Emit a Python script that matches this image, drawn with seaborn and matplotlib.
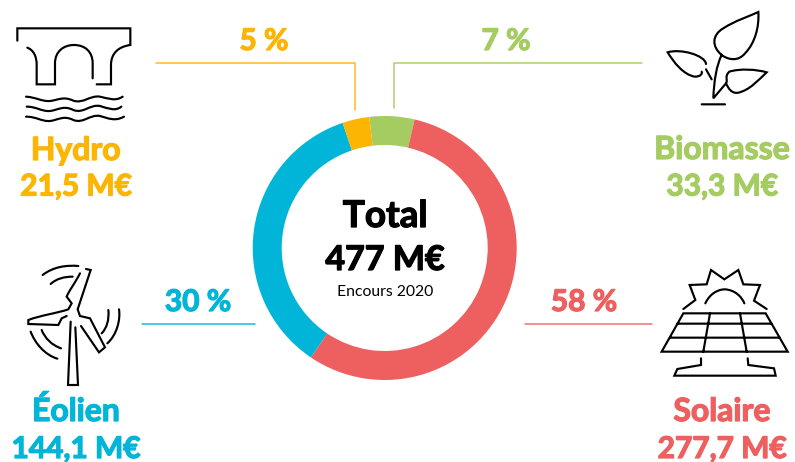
import re
import numpy as np
import pandas as pd
import seaborn as sns
import matplotlib.pyplot as plt
import matplotlib.patheffects as pe
from matplotlib.path import Path
from matplotlib.patches import PathPatch

# Data
sources = ['Biomasse', 'Solaire', 'Éolien', 'Hydro']
amounts = [33.3, 277.7, 144.1, 21.5]
percents = [7, 58, 30, 5]
# the ring is not drawn to scale in the original, these are the arc shares as drawn
ring_shares = [5.5, 55.8, 35.4, 3.3]
colors = ['#A4CC61', '#EE6060', '#00B5D8', '#FDB504']
total_label = 'Total'
total_value = '477 M€'
total_note = 'Encours 2020'

W, H = 795, 462
FONT = 'Lato'

sns.set_theme(style='white')
plt.rcParams['font.family'] = [FONT, 'DejaVu Sans']
palette = sns.color_palette(colors)
df = pd.DataFrame({'source': sources, 'amount': amounts, 'percent': percents, 'share': ring_shares})

fig = plt.figure(figsize=(W / 100, H / 100), dpi=100, facecolor='white')

# full canvas axes, in pixels, for text and the icons
ax = fig.add_axes([0, 0, 1, 1])
ax.set_xlim(0, W)
ax.set_ylim(H, 0)
ax.axis('off')

# Donut
cx, cy, r = 384.7, 248, 132
ax_pie = fig.add_axes([(cx - r) / W, 1 - (cy + r) / H, 2 * r / W, 2 * r / H])
ax_pie.pie(df['share'], colors=palette, startangle=90 - (-6.7), counterclock=False, radius=1,
           wedgeprops={'width': 29 / r, 'linewidth': 0})
ax_pie.set_xlim(-1, 1)
ax_pie.set_ylim(-1, 1)


def svg(d, ox=0, oy=0, scale=1 / 3):
    verts, codes = [], []
    for cmd, args in re.findall(r'([MLCZ])([^MLCZ]*)', d):
        nums = [float(n) for n in args.split()]
        pts = [(ox + nums[i] * scale, oy + nums[i + 1] * scale) for i in range(0, len(nums), 2)]
        if cmd == 'M':
            verts += pts
            codes += [Path.MOVETO]
        elif cmd == 'L':
            verts += pts
            codes += [Path.LINETO] * len(pts)
        elif cmd == 'C':
            verts += pts
            codes += [Path.CURVE4] * len(pts)
        else:
            verts += [verts[-1]]
            codes += [Path.CLOSEPOLY]
    return Path(verts, codes)


def icon(d, ox, oy, lw=1.55):
    patch = PathPatch(svg(d, ox, oy), fill=False, edgecolor='black', linewidth=lw,
                      capstyle='round', joinstyle='miter')
    ax.add_patch(patch)


# Hydro
icon('M 52 122 L 52 85 L 391 85 L 391 135 C 355 140 333 160 333 195 L 333 253 L 290 253 '
     'M 82 143 C 100 150 110 168 110 195 L 110 253 L 165 253 L 165 190 '
     'C 165 155 190 135 222 135 C 255 135 278 155 278 190 L 278 235 '
     'M 78 290 C 110 292 125 305 150 303 C 175 300 190 288 220 302 C 250 312 270 285 300 290 C 325 295 345 305 368 290 '
     'M 80 320 C 110 320 125 335 150 333 C 175 330 190 315 220 330 C 250 342 270 312 300 318 C 325 325 345 335 364 320 '
     'M 78 350 C 110 350 125 365 150 363 C 175 360 190 345 220 360 C 250 372 270 342 300 348 C 325 355 345 365 372 350',
     0, 0)

# Biomasse
icon('M 305 165 C 275 140 275 105 310 85 C 345 62 385 50 415 36 C 418 80 405 130 375 160 C 355 185 325 180 305 165 '
     'C 290 195 282 240 280 295 L 318 250 C 325 240 312 230 328 215 C 360 205 410 208 440 217 '
     'C 415 240 390 270 355 278 C 335 282 325 265 318 250 '
     'M 258 192 C 255 165 180 145 143 157 C 160 185 190 225 225 230 C 240 230 248 222 245 215 '
     'M 258 208 L 275 238 M 245 313 L 315 313', 620, 0)

# Eolien
icon('M 212 215 L 204 405 L 234 405 L 226 232 '
     'M 240 70 C 225 100 205 125 200 140 L 215 160 L 205 178 C 170 190 125 195 85 210 L 85 222 L 175 225 L 185 205 L 200 198 '
     'M 258 57 L 272 60 L 233 178 L 240 198 L 270 205 L 315 292 L 297 307 L 243 228 '
     'M 128 75 C 160 50 200 45 235 48 M 152 102 C 170 85 195 80 218 80 '
     'M 92 245 C 105 280 135 315 172 326 M 125 240 C 135 265 155 285 183 295 '
     'M 357 178 C 362 210 350 255 322 280 M 325 180 C 328 210 320 235 305 250', 0, 250)

# Solaire
icon('M 190 177 L 226 150 L 209 105 L 260 103 L 273 60 L 313 88 L 355 60 L 370 103 L 420 105 L 402 152 L 440 177 '
     'M 256 160 C 270 130 295 118 315 118 C 345 120 365 140 373 160 '
     'M 190 190 L 437 190 L 503 305 L 125 305 Z '
     'M 172 221 L 455 221 M 152 263 L 480 263 M 270 190 L 250 305 M 360 190 L 380 305 '
     'M 243 325 L 243 345 L 172 357 L 163 377 L 467 377 L 462 355 L 385 345 L 383 325', 620, 250)

# Connector lines
ax.plot([642, 394, 394], [63, 63, 108], color=palette[0], lw=1.1, alpha=0.9)
ax.plot([525, 652], [324, 324], color=palette[1], lw=1.1, alpha=0.9)
ax.plot([142, 255], [324, 324], color=palette[2], lw=1.1, alpha=0.9)
ax.plot([156, 355, 355], [63, 63, 110], color=palette[3], lw=1.1, alpha=0.9)

# Text baselines per source
pct_pos = [(506, 50), (584, 311), (198, 311), (264, 50)]
name_pos = [(722, 159), (722, 421), (76, 160), (76, 160)]
name_pos[2] = (76, 421)
value_pos = [(722, 195.5), (722, 458), (76, 458), (76, 195.5)]


def label(x, y, s, color, size, stroke=0.9, weight='bold'):
    t = ax.text(x, y, s, color=color, fontsize=size, fontweight=weight, ha='center', va='baseline')
    if stroke:
        # the installed Lato is lighter than the rounded black face of the original
        t.set_path_effects([pe.withStroke(linewidth=stroke, foreground=color)])
    return t


for i, row in df.iterrows():
    c = palette[i]
    label(*pct_pos[i], f"{row['percent']} %", c, 21.5)
    label(*name_pos[i], row['source'], c, 23)
    value = f"{row['amount']:.1f}".replace('.', ',') + ' M€'
    label(*value_pos[i], value, c, 21.5)

label(385, 227, total_label, 'black', 26.5)
label(385, 270, total_value, 'black', 24.5)
label(385, 296, total_note, 'black', 11.3, stroke=0, weight='normal')

plt.savefig('out.png', dpi=100)
